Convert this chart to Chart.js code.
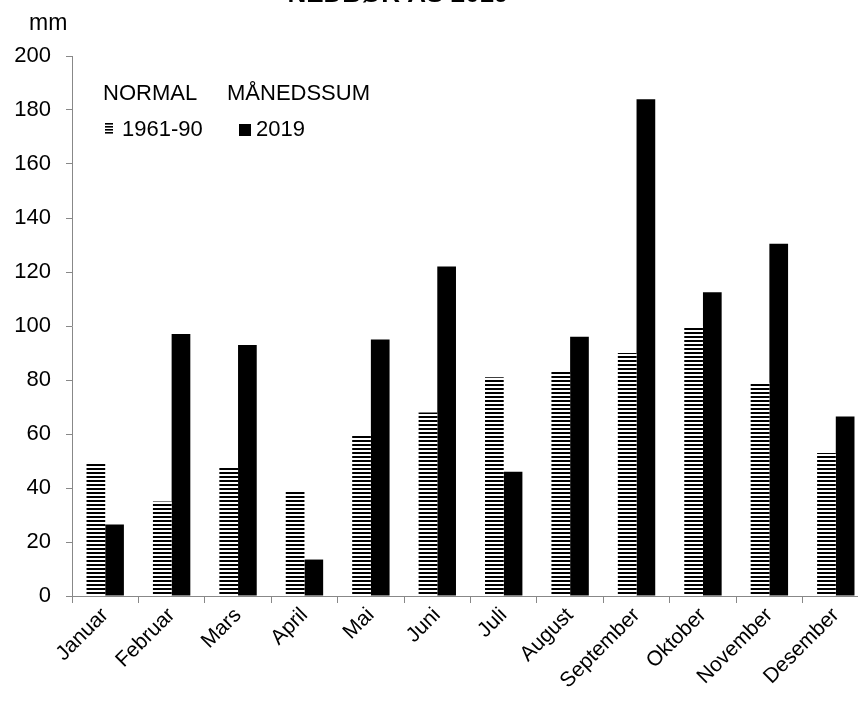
<!DOCTYPE html>
<html>
<head>
<meta charset="utf-8">
<script src="https://cdn.jsdelivr.net/npm/chart.js@4"></script>
<style>
  html, body { margin: 0; padding: 0; background: #fff; overflow: hidden; }
  #wrap { position: relative; width: 858px; height: 708px; overflow: hidden; font-family: "Liberation Sans", Arial, sans-serif; }
  #title { position: absolute; left: 0; width: 796px; text-align: center; top: -22px; font-weight: bold; font-size: 26px; color: #000; white-space: nowrap; }
  #unit { position: absolute; left: 29px; top: 9px; font-size: 23px; color: #000; }
</style>
</head>
<body>
<div id="wrap">
  <canvas id="chart" width="870" height="708"></canvas>
  <div id="title">NEDBØR ÅS 2019</div>
  <div id="unit">mm</div>
</div>
<script>
// Data
const months = ['Januar', 'Februar', 'Mars', 'April', 'Mai', 'Juni', 'Juli', 'August', 'September', 'Oktober', 'November', 'Desember'];
const normal = [49, 35, 48, 39, 60, 68, 81, 83, 90, 100, 79, 53];
const sum2019 = [26.5, 97, 93, 13.5, 95, 122, 46, 96, 184, 112.5, 130.5, 66.5];
const legendHeader = ['NORMAL', 'MÅNEDSSUM'];
const seriesLabels = ['1961-90', '2019'];

const FONT = '"Liberation Sans", Arial, sans-serif';

// Stripete mønster for normalen
function makeStripes() {
    const c = document.createElement('canvas');
    c.width = 4;
    c.height = 4;
    const g = c.getContext('2d');
    g.fillStyle = '#fff';
    g.fillRect(0, 0, 4, 4);
    g.fillStyle = '#000';
    g.fillRect(0, 0, 4, 2);
    return g.createPattern(c, 'repeat');
}
const stripes = makeStripes();

// Legende tegnet inne i plottet
const legendPlugin = {
    id: 'innerLegend',
    afterDraw(chart) {
        const ctx = chart.ctx;
        ctx.save();
        ctx.font = '22px ' + FONT;
        ctx.fillStyle = '#000';
        ctx.textBaseline = 'middle';
        ctx.fillText(legendHeader[0], 103, 94);
        ctx.fillText(legendHeader[1], 227, 94);

        // stripet symbol
        for (let k = 0; k < 4; k++) {
            ctx.fillRect(105, 123 + k * 3, 8, 1.6);
        }
        ctx.fillText(chart.data.datasets[0].label, 122, 130);

        // svart symbol
        ctx.fillRect(239, 124, 12, 12);
        ctx.fillText(chart.data.datasets[1].label, 256, 130);
        ctx.restore();
    }
};

const ctx = document.getElementById('chart').getContext('2d');
new Chart(ctx, {
    type: 'bar',
    data: {
        labels: months,
        datasets: [
            { label: seriesLabels[0], data: normal, backgroundColor: stripes, borderWidth: 0 },
            { label: seriesLabels[1], data: sum2019, backgroundColor: '#000', borderWidth: 0 }
        ]
    },
    options: {
        responsive: false,
        animation: false,
        devicePixelRatio: 1,
        layout: { padding: { top: 56, right: 1, left: 0, bottom: 0 } },
        datasets: { bar: { categoryPercentage: 0.563, barPercentage: 1 } },
        scales: {
            x: {
                afterFit: (s) => { s.height = 112; },
                grid: { display: true, drawOnChartArea: false, offset: true, tickLength: 7, color: '#888' },
                border: { color: '#888' },
                ticks: {
                    color: '#000',
                    font: { size: 21, family: FONT },
                    maxRotation: 45,
                    minRotation: 45,
                    padding: 0
                }
            },
            y: {
                min: 0,
                max: 200,
                afterFit: (s) => { s.width = 72; },
                grid: { display: true, drawOnChartArea: false, tickLength: 6, color: '#888' },
                border: { color: '#888' },
                ticks: {
                    stepSize: 20,
                    color: '#000',
                    padding: 15,
                    font: { size: 22, family: FONT }
                }
            }
        },
        plugins: {
            legend: { display: false },
            tooltip: { enabled: false }
        }
    },
    plugins: [legendPlugin]
});
</script>
</body>
</html>
